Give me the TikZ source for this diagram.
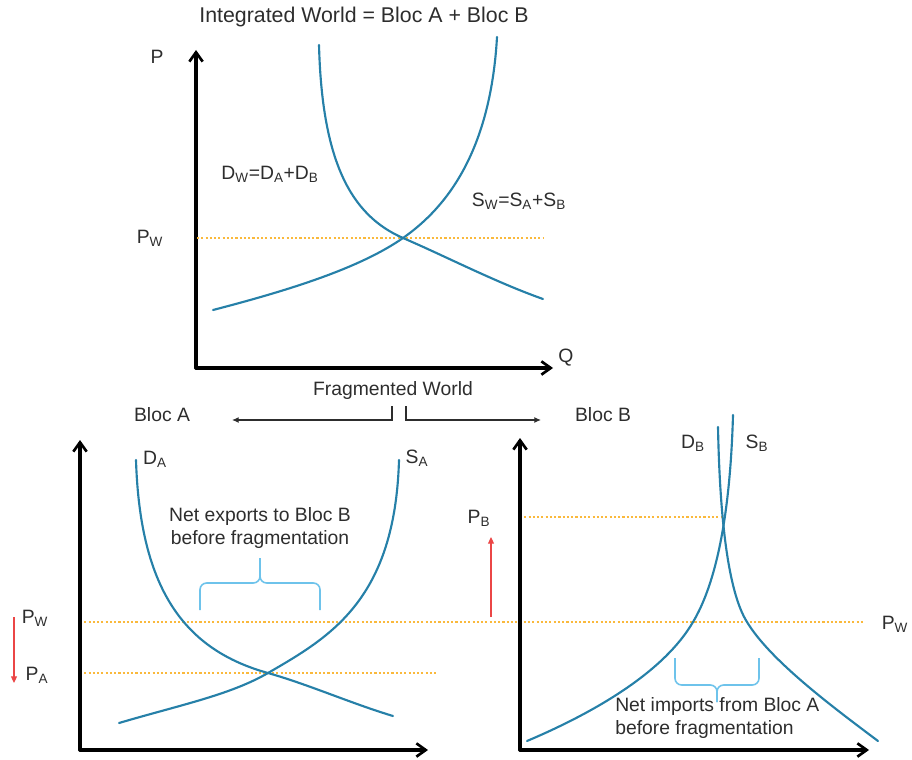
\documentclass[tikz,border=0pt]{standalone}
\usepackage{fontspec}
\setmainfont{Liberation Sans}
\usetikzlibrary{arrows.meta}
\definecolor{curvec}{RGB}{38,128,168}
\definecolor{bracec}{RGB}{110,195,235}
\definecolor{dotc}{RGB}{250,185,60}
\definecolor{redc}{RGB}{235,70,70}
\definecolor{txtc}{RGB}{45,45,45}
\begin{document}
\begin{tikzpicture}[x=0.75pt,y=-0.75pt,
  axisline/.style={line width=2.4pt,black,line cap=round,-{Straight Barb[length=7pt,width=10pt,line width=2pt]}},
  curveline/.style={line width=1.6pt,curvec,line cap=round},
  dotline/.style={dotc,line width=1.2pt,dash pattern=on 1.6pt off 1.6pt},
  braceline/.style={bracec,line width=1.2pt,rounded corners=5pt},
  redarrow/.style={redc,line width=0.8pt,-{Triangle[length=5pt,width=4.5pt]}},
  fragarrow/.style={txtc,line width=0.9pt,-{Latex[length=5pt,width=4.5pt]}},
  lbl/.style={text=txtc,font=\fontsize{14.5}{17}\selectfont,inner sep=0pt},
  ttl/.style={text=txtc,font=\fontsize{16}{19}\selectfont,inner sep=0pt}]
\useasboundingbox (0,0) rectangle (912,759);

% ---------- top chart ----------
\coordinate (o1) at (196,368);
\coordinate (y1) at (196,50);
\coordinate (x1) at (553,368);
\draw[axisline] (o1) -- (y1);
\draw[axisline] (o1) -- (x1);
\coordinate (pw1a) at (197,238);
\coordinate (pw1b) at (543,238);
\draw[dotline] (pw1a) -- (pw1b);
\coordinate (e1) at (403,238);
\draw[curveline] (319,45) .. controls (322,160) and (350,215) .. (e1)
  .. controls (445,256) and (495,282) .. (543,299);
\draw[curveline] (213,310) .. controls (290,290) and (360,268) .. (e1)
  .. controls (440,212) and (490,160) .. (497,37);
\node[ttl] (title) at (364,17) {Integrated World = Bloc A + Bloc B};
\node[lbl] (plab) at (157,57) {P};
\node[lbl] (qlab) at (566,358) {Q};
\node[lbl] (pwlab) at (150,238) {P\textsubscript{W}};
\node[lbl] (dwlab) at (270,174) {D\textsubscript{W}=D\textsubscript{A}+D\textsubscript{B}};
\node[lbl] (swlab) at (519,201) {S\textsubscript{W}=S\textsubscript{A}+S\textsubscript{B}};

% ---------- fragmented world ----------
\node[lbl] (frag) at (393,390) {Fragmented World};
\node[lbl] (bloca) at (162,415) {Bloc A};
\node[lbl] (blocb) at (603,415) {Bloc B};
\coordinate (fl0) at (392,406);
\coordinate (fl1) at (392,420);
\coordinate (fl2) at (232,420);
\coordinate (fr0) at (406,406);
\coordinate (fr1) at (406,420);
\coordinate (fr2) at (541,420);
\draw[fragarrow] (fl0) -- (fl1) -- (fl2);
\draw[fragarrow] (fr0) -- (fr1) -- (fr2);

% ---------- dotted price lines ----------
\coordinate (pwa) at (80,622);
\coordinate (pwb) at (863,622);
\draw[dotline] (pwa) -- (pwb);
\coordinate (paa) at (80,673);
\coordinate (pab) at (437,673);
\draw[dotline] (paa) -- (pab);
\coordinate (pba) at (520,517);
\coordinate (pbb) at (723,517);
\draw[dotline] (pba) -- (pbb);

% ---------- bloc A ----------
\coordinate (o2) at (80,750);
\coordinate (y2) at (80,440);
\coordinate (x2) at (428,750);
\draw[axisline] (o2) -- (y2);
\draw[axisline] (o2) -- (x2);
\coordinate (e2) at (268,673);
\draw[curveline] (136,460) .. controls (140,590) and (185,650) .. (e2)
  .. controls (310,685) and (350,703) .. (393,716);
\draw[curveline] (119,723) .. controls (180,705) and (230,695) .. (e2)
  .. controls (330,637) and (395,600) .. (399,460);
\node[lbl] (dalab) at (155,459) {D\textsubscript{A}};
\node[lbl] (salab) at (417,458) {S\textsubscript{A}};
\draw[braceline] (200,610) -- (200,583) -- (260,583) -- (260,558);
\draw[braceline] (320,610) -- (320,583) -- (260,583) -- (260,558);
\node[lbl,align=center] (netexp) at (260,528) {Net exports to Bloc B\\before fragmentation};
\node[lbl] (pwAlab) at (35,618) {P\textsubscript{W}};
\node[lbl] (paAlab) at (37,675) {P\textsubscript{A}};
\coordinate (ra0) at (14,617);
\coordinate (ra1) at (14,683);
\draw[redarrow] (ra0) -- (ra1);

% ---------- bloc B ----------
\coordinate (o3) at (520,750);
\coordinate (y3) at (520,438);
\coordinate (x3) at (869,750);
\draw[axisline] (o3) -- (y3);
\draw[axisline] (o3) -- (x3);
\draw[curveline] (718,427) .. controls (720,530) and (730,595) .. (747,622)
  .. controls (770,660) and (830,705) .. (878,741);
\draw[curveline] (527,741) .. controls (600,710) and (665,670) .. (693,622)
  .. controls (715,585) and (730,520) .. (733,415);
\node[lbl] (dblab) at (693,443) {D\textsubscript{B}};
\node[lbl] (sblab) at (757,443) {S\textsubscript{B}};
\draw[braceline] (675,658) -- (675,685) -- (717,685) -- (717,702);
\draw[braceline] (759,658) -- (759,685) -- (717,685) -- (717,702);
\node[lbl,align=left,anchor=west] (netimp) at (615,718) {Net imports from Bloc A\\before fragmentation};
\node[lbl] (pbBlab) at (479,518) {P\textsubscript{B}};
\node[lbl] (pwBlab) at (895,624) {P\textsubscript{W}};
\coordinate (rb0) at (491,617);
\coordinate (rb1) at (491,537);
\draw[redarrow] (rb0) -- (rb1);
\end{tikzpicture}
\end{document}
